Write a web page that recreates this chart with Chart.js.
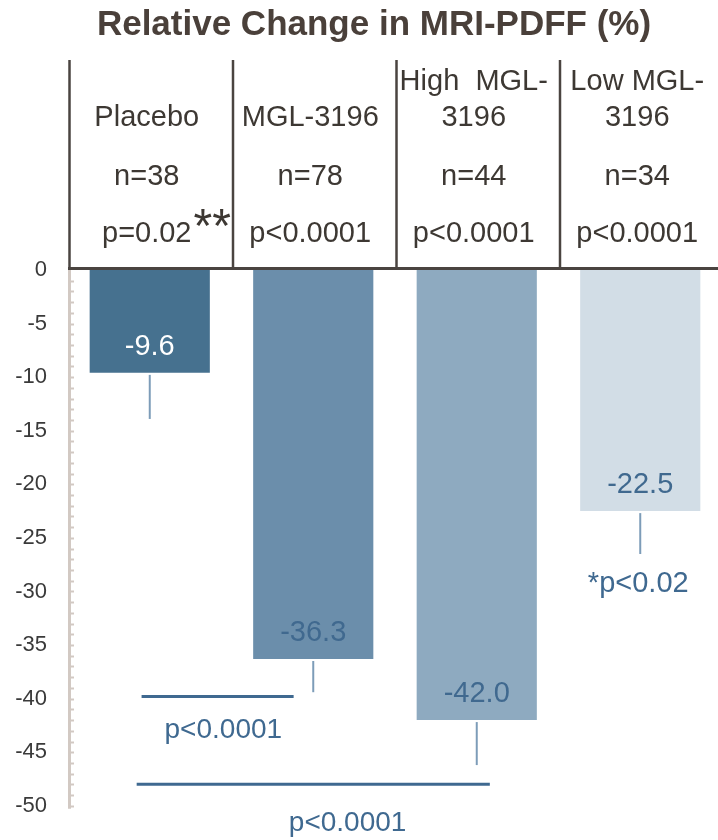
<!DOCTYPE html>
<html>
<head>
<meta charset="utf-8">
<script src="https://cdn.jsdelivr.net/npm/chart.js@4/dist/chart.umd.min.js"></script>
<style>
  html, body { margin: 0; padding: 0; background: #ffffff; overflow: hidden; }
  #wrap { width: 722px; height: 840px; position: relative; }
</style>
</head>
<body>
<div id="wrap"><canvas id="chart"></canvas></div>
<script>
// Treatment groups and their header rows
const groupNames = [['Placebo'], ['MGL-3196'], ['High  MGL-', '3196'], ['Low MGL-', '3196']];
const groupN = ['n=38', 'n=78', 'n=44', 'n=34'];
const groupP = ['p=0.02', 'p<0.0001', 'p<0.0001', 'p<0.0001'];

// Relative change in MRI-PDFF (%) and the lower error extent
const changeValues = [-9.6, -36.3, -42.0, -22.5];
const errorValues = [4.3, 3.1, 4.2, 4.0];
const valueLabels = ['-9.6', '-36.3', '-42.0', '-22.5'];

// Y axis range and tick labels
const yMin = -50;
const yMax = 0;
const yStep = 5;

// Between-group comparisons (from/to in category units, level in % units)
const comparisonFrom = [-0.05, -0.08];
const comparisonTo = [0.88, 2.08];
const comparisonLevel = [-39.8, -48.0];
const comparisonText = ['p<0.0001', 'p<0.0001'];
const comparisonTextAt = [0.45, 1.21];

// Note under the low-dose group
const noteGroup = 3;
const noteText = '*p<0.02';

const barColors = ['#46718f', '#6b8eab', '#8eaac0', '#d2dde6'];
const labelColors = ['#ffffff', '#40698f', '#40698f', '#40698f'];
const accent = '#3f6990';
const frameColor = '#4a4440';
const textColor = '#3d3833';
const axisColor = '#d2c9c3';
const FONT = '"Liberation Sans", Arial, sans-serif';
const comparisonTextGap = [42, 47];

const annotations = {
  id: 'annotations',
  afterDatasetsDraw(chart) {
    const { ctx, chartArea, scales } = chart;
    const x = scales.x, y = scales.y;
    const meta = chart.getDatasetMeta(0);
    const step = (chartArea.right - chartArea.left) / groupNames.length;
    ctx.save();

    // Title
    ctx.fillStyle = '#4a403a';
    ctx.font = 'bold 35px ' + FONT;
    ctx.textAlign = 'center';
    ctx.textBaseline = 'alphabetic';
    ctx.fillText('Relative Change in MRI-PDFF (%)', 374, 35);

    // Left axis line with minor ticks
    const zeroY = y.getPixelForValue(0);
    const bottomY = y.getPixelForValue(yMin);
    ctx.strokeStyle = axisColor;
    ctx.lineWidth = 3;
    ctx.beginPath();
    ctx.moveTo(chartArea.left + 1.5, zeroY);
    ctx.lineTo(chartArea.left + 1.5, bottomY + 3);
    ctx.stroke();
    ctx.lineWidth = 2;
    for (let v = -1; v >= yMin; v--) {
      const py = Math.round(y.getPixelForValue(v)) + 0.5;
      ctx.beginPath();
      ctx.moveTo(chartArea.left + 3, py);
      ctx.lineTo(chartArea.left + 6, py);
      ctx.stroke();
    }

    // Header grid
    ctx.strokeStyle = frameColor;
    ctx.lineWidth = 2.5;
    for (let i = 0; i <= groupNames.length; i++) {
      const lx = chartArea.left + 1.5 + i * step;
      ctx.beginPath();
      ctx.moveTo(lx, 60);
      ctx.lineTo(lx, zeroY);
      ctx.stroke();
    }
    ctx.lineWidth = 3;
    ctx.beginPath();
    ctx.moveTo(chartArea.left, zeroY - 1.5);
    ctx.lineTo(chartArea.right, zeroY - 1.5);
    ctx.stroke();

    // Header text
    ctx.fillStyle = textColor;
    ctx.font = '29px ' + FONT;
    ctx.textAlign = 'center';
    groupNames.forEach((lines, i) => {
      const cx = x.getPixelForValue(i) - 3;
      if (lines.length === 1) {
        ctx.fillText(lines[0], cx, 126);
      } else {
        ctx.fillText(lines[0], cx, 90);
        ctx.fillText(lines[1], cx, 126);
      }
      ctx.fillText(groupN[i], cx, 185);
      ctx.fillText(groupP[i], cx, 242);
      if (i === 0) {
        const w = ctx.measureText(groupP[i]).width;
        ctx.save();
        ctx.textAlign = 'left';
        ctx.font = '48px ' + FONT;
        ctx.fillText('**', cx + w / 2 + 2, 242);
        ctx.restore();
      }
    });

    // Error bars and value labels
    meta.data.forEach((bar, i) => {
      const cx = bar.x;
      const bottom = y.getPixelForValue(changeValues[i]);
      const errEnd = y.getPixelForValue(changeValues[i] - errorValues[i]);
      ctx.strokeStyle = '#7d9cb8';
      ctx.lineWidth = 2;
      ctx.beginPath();
      ctx.moveTo(cx, bottom + 2);
      ctx.lineTo(cx, errEnd);
      ctx.stroke();

      ctx.fillStyle = labelColors[i];
      ctx.font = '29px ' + FONT;
      ctx.textAlign = 'center';
      ctx.fillText(valueLabels[i], cx, bottom - 18);
    });

    // Comparison brackets
    ctx.strokeStyle = accent;
    ctx.fillStyle = accent;
    ctx.lineWidth = 3;
    comparisonFrom.forEach((from, k) => {
      const py = y.getPixelForValue(comparisonLevel[k]);
      ctx.beginPath();
      ctx.moveTo(x.getPixelForValue(from), py);
      ctx.lineTo(x.getPixelForValue(comparisonTo[k]), py);
      ctx.stroke();
      ctx.font = '28px ' + FONT;
      ctx.textAlign = 'center';
      ctx.fillText(comparisonText[k], x.getPixelForValue(comparisonTextAt[k]), py + comparisonTextGap[k]);
    });

    // Note under the low-dose group
    const nb = meta.data[noteGroup];
    const noteY = y.getPixelForValue(changeValues[noteGroup] - errorValues[noteGroup]);
    ctx.font = '29px ' + FONT;
    ctx.textAlign = 'center';
    ctx.fillText(noteText, nb.x - 2, noteY + 38);

    ctx.restore();
  }
};

new Chart(document.getElementById('chart'), {
  type: 'bar',
  data: {
    labels: groupNames.map(l => l.join(' ')),
    datasets: [{
      data: changeValues,
      backgroundColor: barColors,
      borderWidth: 0,
      categoryPercentage: 1.0,
      barPercentage: 0.735
    }]
  },
  options: {
    responsive: true,
    maintainAspectRatio: false,
    animation: false,
    devicePixelRatio: 1,
    layout: { padding: { top: 270, bottom: 30, left: 0, right: 0 } },
    plugins: {
      legend: { display: false },
      title: { display: false },
      tooltip: { enabled: false }
    },
    scales: {
      x: { display: false },
      y: {
        min: yMin,
        max: yMax,
        grid: { display: false, drawTicks: false },
        border: { display: false },
        ticks: {
          stepSize: yStep,
          padding: 21,
          color: '#3a3a3a',
          font: { family: FONT, size: 22 }
        },
        afterFit(scale) { scale.width = 68; }
      }
    }
  },
  plugins: [annotations]
});
</script>
</body>
</html>
